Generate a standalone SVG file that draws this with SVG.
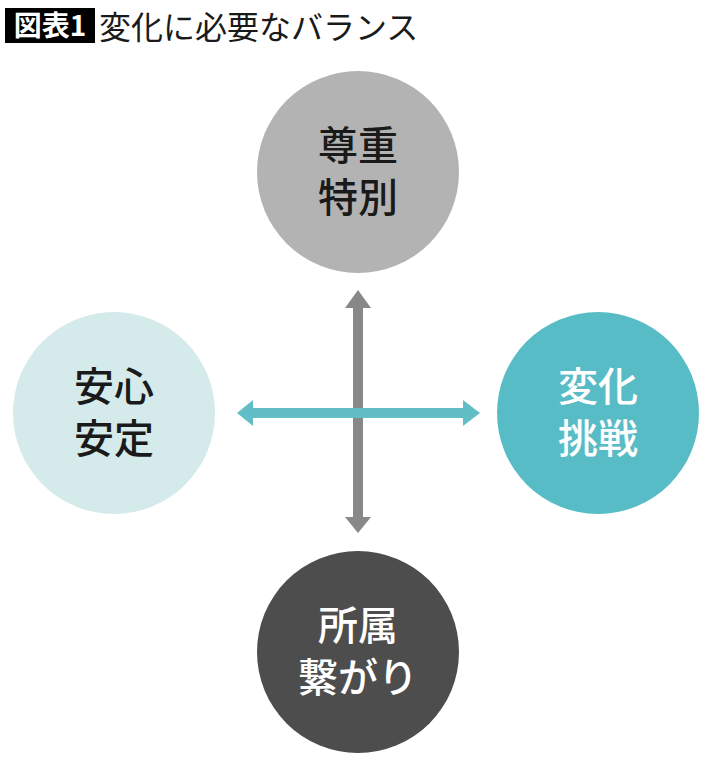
<svg xmlns="http://www.w3.org/2000/svg" width="710" height="760" viewBox="0 0 710 760">
<style>
.t{font-family:"Noto Sans CJK JP","Noto Sans",sans-serif;font-size:40px;font-weight:500;text-anchor:middle}
.dk{fill:#1a1a1a}
.wh{fill:#ffffff}
</style>
<rect width="710" height="760" fill="#ffffff"/>
<g id="title">
<rect x="5" y="8" width="90" height="35" fill="#000000"/>
<text x="50" y="36" font-family="'Noto Sans CJK JP',sans-serif" font-size="28" font-weight="700" fill="#ffffff" text-anchor="middle">図表1</text>
<text x="99" y="39" font-family="'Noto Sans CJK JP',sans-serif" font-size="32" fill="#1a1a1a">変化に必要なバランス</text>
</g>
<g id="node-top">
<circle cx="358" cy="172" r="101" fill="#b3b3b3"/>
<text class="t dk" x="358" y="160">尊重<tspan x="358" dy="52">特別</tspan></text>
</g>
<g id="node-left">
<circle cx="114" cy="413" r="101" fill="#d5eaeb"/>
<text class="t dk" x="114" y="401">安心<tspan x="114" dy="52">安定</tspan></text>
</g>
<g id="node-right">
<circle cx="598" cy="413" r="101" fill="#58bcc6"/>
<text class="t wh" x="598" y="401">変化<tspan x="598" dy="52">挑戦</tspan></text>
</g>
<g id="node-bottom">
<circle cx="358" cy="652" r="101" fill="#4d4d4d"/>
<text class="t wh" x="358" y="640">所属<tspan x="358" dy="52">繋がり</tspan></text>
</g>
<g id="connectors">
<g fill="#888888">
<rect x="353" y="306" width="10" height="213"/>
<polygon points="358,290 371,308 345,308"/>
<polygon points="358,533 371,517 345,517"/>
</g>
<g fill="#62bec6">
<rect x="251" y="408" width="214" height="10"/>
<polygon points="237,413 253,400 253,426"/>
<polygon points="480,413 463,400 463,426"/>
</g>
</g>
</svg>
